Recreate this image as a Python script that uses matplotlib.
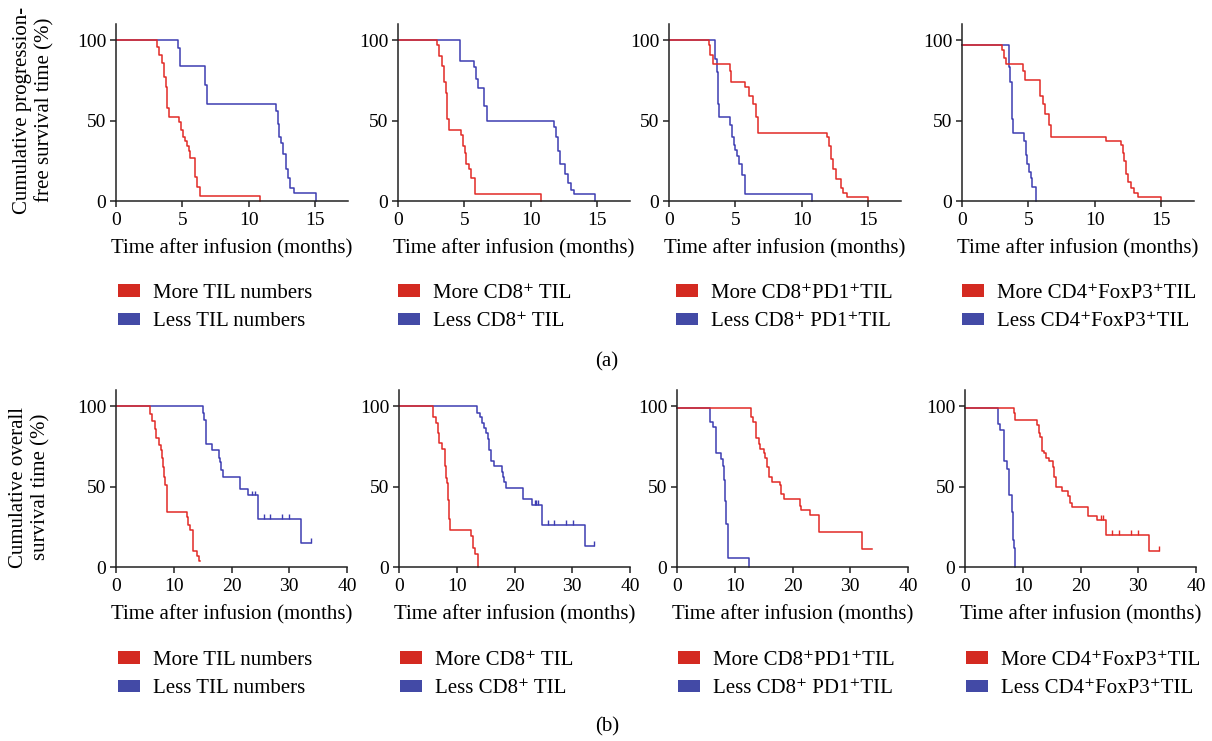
import matplotlib
matplotlib.use("Agg")
import matplotlib.pyplot as plt
from matplotlib.patches import Patch

plt.rcParams['font.family'] = ['Liberation Serif', 'DejaVu Serif']
plt.rcParams['font.size'] = 15

RED = '#e22a26'
BLUE = '#3d3db2'
RED_P = '#d42a21'
BLUE_P = '#434aa6'

# --- (a) progression-free survival, months ---
pfs_more_til_t = [0, 3.1, 3.25, 3.45, 3.6, 3.75, 3.85, 4.0, 4.75, 4.9, 5.05, 5.2, 5.35, 5.5, 5.6, 5.95, 6.1, 6.3, 10.85]
pfs_more_til_s = [100, 96, 91, 86, 77, 71, 58, 52, 49, 44, 40, 37, 34, 31, 27, 15, 9, 3.3, 0]
pfs_less_til_t = [0, 4.7, 4.85, 6.7, 6.85, 12.05, 12.2, 12.3, 12.45, 12.6, 12.8, 12.95, 13.15, 13.4, 15.05]
pfs_less_til_s = [100, 95, 84, 72, 60, 56, 48, 40, 36, 29, 20, 14, 8, 4.8, 0]

pfs_more_cd8_t = [0, 2.95, 3.1, 3.3, 3.45, 3.6, 3.7, 3.85, 4.75, 4.9, 5.05, 5.15, 5.35, 5.5, 5.8, 10.75]
pfs_more_cd8_s = [100, 97, 90, 84, 74, 67, 51, 44, 41, 34, 30, 23, 20, 14, 4.4, 0]
pfs_less_cd8_t = [0, 4.65, 5.75, 5.9, 6.05, 6.5, 6.7, 11.8, 11.95, 12.1, 12.25, 12.6, 12.85, 13.05, 13.3, 14.85]
pfs_less_cd8_s = [100, 87, 83, 76, 70, 59, 50, 46, 40, 31, 23, 17, 11, 7, 4.4, 0]

pfs_more_pd1_t = [0, 3.0, 3.1, 3.35, 4.6, 4.7, 5.75, 6.0, 6.3, 6.55, 6.7, 11.9, 12.05, 12.2, 12.4, 12.6, 12.95, 13.1, 13.4, 15.0]
pfs_more_pd1_s = [100, 97, 91, 85, 81, 74, 71, 65, 60, 52, 42.5, 40, 34, 26, 20, 13.5, 8, 5, 2.7, 0]
pfs_less_pd1_t = [0, 3.45, 3.6, 3.7, 3.78, 4.6, 4.75, 4.9, 5.0, 5.15, 5.3, 5.5, 5.75, 10.8]
pfs_less_pd1_s = [100, 88, 80, 60, 52, 47, 40, 35, 32, 28, 23, 16, 4.1, 0]

pfs_more_foxp3_t = [0, 3.05, 3.15, 3.3, 4.6, 4.75, 5.9, 6.1, 6.25, 6.6, 6.7, 10.85, 12.0, 12.15, 12.25, 12.4, 12.55, 12.75, 13.0, 13.3, 15.0]
pfs_more_foxp3_s = [97, 94, 89, 85, 81, 75, 65, 60, 54, 47, 40, 37, 35, 30, 25, 17, 12, 8, 5, 2.7, 0]
pfs_less_foxp3_t = [0, 3.55, 3.65, 3.75, 3.82, 4.7, 4.8, 4.9, 5.05, 5.2, 5.3, 5.45, 5.6]
pfs_less_foxp3_s = [97, 83, 74, 51, 42, 37, 28.5, 23, 18, 14, 9, 9, 0]

# --- (b) overall survival, months ---
os_more_til_t = [0, 5.9, 6.3, 6.7, 6.95, 7.5, 7.8, 7.95, 8.2, 8.35, 8.55, 8.75, 12.35, 12.5, 12.9, 13.4, 13.95, 14.4, 14.5]
os_more_til_s = [100, 95, 91, 86, 80, 76, 73, 68, 62, 56, 51, 34, 31, 26, 23, 10, 7, 3.5, 3.5]
os_less_til_t = [0, 15.0, 15.2, 15.6, 16.6, 17.8, 18.05, 18.25, 18.45, 21.4, 22.85, 24.6, 32.1, 33.8]
os_less_til_s = [100, 96, 91.5, 76.5, 72.5, 68, 65, 60, 56, 48.5, 44.5, 30, 15, 15]
os_less_til_cens_t = [23.6, 24.1, 25.6, 26.7, 28.8, 30.0, 33.8]
os_less_til_cens_s = [44.5, 44.5, 30, 30, 30, 30, 15]

os_more_cd8_t = [0, 5.95, 6.45, 6.75, 6.9, 7.5, 7.9, 8.1, 8.3, 8.5, 8.65, 8.9, 12.4, 12.8, 13.1, 13.6]
os_more_cd8_s = [100, 93.5, 89.5, 83, 77, 73.5, 63, 55.5, 52, 41.5, 30, 23, 19, 12, 8, 0]
os_less_cd8_t = [0, 13.55, 14.0, 14.4, 14.7, 15.1, 15.45, 15.6, 15.85, 16.5, 17.75, 18.0, 18.2, 18.6, 21.4, 23.1, 24.7, 32.2, 33.8]
os_less_cd8_s = [100, 96, 93.5, 89.5, 86.5, 83, 79.5, 72.5, 66, 62.5, 59, 56, 53, 49, 42, 38.5, 26, 13, 13]
os_less_cd8_cens_t = [23.5, 23.8, 24.1, 25.8, 26.9, 29.0, 30.2, 33.8]
os_less_cd8_cens_s = [38.5, 38.5, 38.5, 26, 26, 26, 26, 13]

os_more_pd1_t = [0, 12.75, 13.15, 13.6, 14.15, 14.45, 15.0, 15.3, 15.6, 15.85, 16.45, 17.8, 18.05, 18.5, 21.25, 21.5, 22.95, 24.55, 32.1, 33.8]
os_more_pd1_s = [99, 93, 90, 80, 76.5, 73.5, 71, 68, 62, 56, 53, 51, 45.5, 42, 38, 35.5, 32.5, 22, 11, 11]
os_less_pd1_t = [0, 5.8, 6.25, 6.75, 7.6, 7.9, 8.1, 8.35, 8.55, 8.8, 12.55]
os_less_pd1_s = [99, 90, 87, 71, 67, 63, 54, 41, 27, 5.6, 0]

os_more_foxp3_t = [0, 8.5, 8.7, 12.45, 12.75, 13.05, 13.35, 13.75, 14.0, 14.6, 15.2, 15.45, 15.75, 16.75, 17.75, 18.2, 18.5, 21.35, 22.8, 24.4, 31.9, 33.6]
os_more_foxp3_s = [99, 96, 91.5, 88.5, 83.5, 80.5, 72, 71, 68, 66, 62, 56, 50, 47.5, 44, 40, 37, 31.5, 29.5, 19.7, 10, 10]
os_more_foxp3_cens_t = [23.5, 23.9, 25.4, 26.6, 28.7, 29.9, 33.6]
os_more_foxp3_cens_s = [29.5, 29.5, 19.7, 19.7, 19.7, 19.7, 10]
os_less_foxp3_t = [0, 5.65, 6.1, 6.7, 7.25, 7.65, 8.15, 8.35, 8.55, 8.7]
os_less_foxp3_s = [99, 89, 85, 66, 61, 45, 34, 17, 12, 0]

legend_labels = [
    ('More TIL numbers', 'Less TIL numbers'),
    ('More CD8⁺ TIL', 'Less CD8⁺ TIL'),
    ('More CD8⁺PD1⁺TIL', 'Less CD8⁺ PD1⁺TIL'),
    ('More CD4⁺FoxP3⁺TIL', 'Less CD4⁺FoxP3⁺TIL'),
]

pfs_panels = [
    (pfs_more_til_t, pfs_more_til_s, pfs_less_til_t, pfs_less_til_s, None, None),
    (pfs_more_cd8_t, pfs_more_cd8_s, pfs_less_cd8_t, pfs_less_cd8_s, None, None),
    (pfs_more_pd1_t, pfs_more_pd1_s, pfs_less_pd1_t, pfs_less_pd1_s, None, None),
    (pfs_more_foxp3_t, pfs_more_foxp3_s, pfs_less_foxp3_t, pfs_less_foxp3_s, None, None),
]
os_panels = [
    (os_more_til_t, os_more_til_s, os_less_til_t, os_less_til_s, None, (os_less_til_cens_t, os_less_til_cens_s)),
    (os_more_cd8_t, os_more_cd8_s, os_less_cd8_t, os_less_cd8_s, None, (os_less_cd8_cens_t, os_less_cd8_cens_s)),
    (os_more_pd1_t, os_more_pd1_s, os_less_pd1_t, os_less_pd1_s, None, None),
    (os_more_foxp3_t, os_more_foxp3_s, os_less_foxp3_t, os_less_foxp3_s, (os_more_foxp3_cens_t, os_more_foxp3_cens_s), None),
]

W, H = 1212, 741
fig = plt.figure(figsize=(W / 100, H / 100), dpi=100)


def px_axes(left, top, bottom, width):
    return fig.add_axes([left / W, 1 - bottom / H, width / W, (bottom - top) / H])


def style(ax, xmax, xticks):
    ax.set_xlim(0, xmax)
    ax.set_ylim(0, 110)
    ax.set_xticks(xticks)
    ax.set_yticks([0, 50, 100])
    for s in ('top', 'right'):
        ax.spines[s].set_visible(False)
    for s in ('left', 'bottom'):
        ax.spines[s].set_linewidth(1.1)
        ax.spines[s].set_color('#222222')
    ax.tick_params(direction='out', length=4, width=1.1, color='#222222', labelsize=14)
    ax.tick_params(axis='x', pad=4)
    ax.tick_params(axis='y', pad=3)
    ax.set_xlabel('Time after infusion (months)', fontsize=15, labelpad=7)


def draw(ax, panel):
    mt, ms, lt, ls, mc, lc = panel
    ax.step(lt, ls, where='post', color=BLUE, lw=1.1, clip_on=False)
    ax.step(mt, ms, where='post', color=RED, lw=1.1, clip_on=False)
    if lc:
        ax.vlines(lc[0], lc[1], [v + 3 for v in lc[1]], color=BLUE, lw=1.0)
    if mc:
        ax.vlines(mc[0], mc[1], [v + 3 for v in mc[1]], color=RED, lw=1.0)


def legend(ax, x, y, labels):
    h = [Patch(facecolor=RED_P, edgecolor='none', label=labels[0]),
         Patch(facecolor=BLUE_P, edgecolor='none', label=labels[1])]
    ax.legend(handles=h, loc='upper left', bbox_to_anchor=(x / W, 1 - y / H),
              bbox_transform=fig.transFigure, frameon=False, fontsize=15,
              handlelength=1.05, handleheight=0.53, handletextpad=0.62,
              labelspacing=0.45, borderpad=0, borderaxespad=0)


top_lefts = [116, 398, 669, 962]
bot_lefts = [116, 399, 677, 965]
top_leg = [118, 398, 676, 962]
bot_leg = [118, 400, 678, 966]

for i in range(4):
    ax = px_axes(top_lefts[i], 24, 201, 232)
    style(ax, 17.5, [0, 5, 10, 15])
    draw(ax, pfs_panels[i])
    legend(ax, top_leg[i], 284, legend_labels[i])

    ax = px_axes(bot_lefts[i], 390, 567, 231)
    style(ax, 40, [0, 10, 20, 30, 40])
    draw(ax, os_panels[i])
    legend(ax, bot_leg[i], 651, legend_labels[i])

fig.text(34 / W, 1 - 110 / H, 'Cumulative progression-\nfree survival time (%)',
         rotation=90, ha='center', va='center', multialignment='center', fontsize=15)
fig.text(30 / W, 1 - 487 / H, 'Cumulative overall\nsurvival time (%)',
         rotation=90, ha='center', va='center', multialignment='center', fontsize=15)
fig.text(607 / W, 1 - 362 / H, '(a)', ha='center', va='center', fontsize=15)
fig.text(607 / W, 1 - 727 / H, '(b)', ha='center', va='center', fontsize=15)

fig.savefig('out.png', dpi=100)
